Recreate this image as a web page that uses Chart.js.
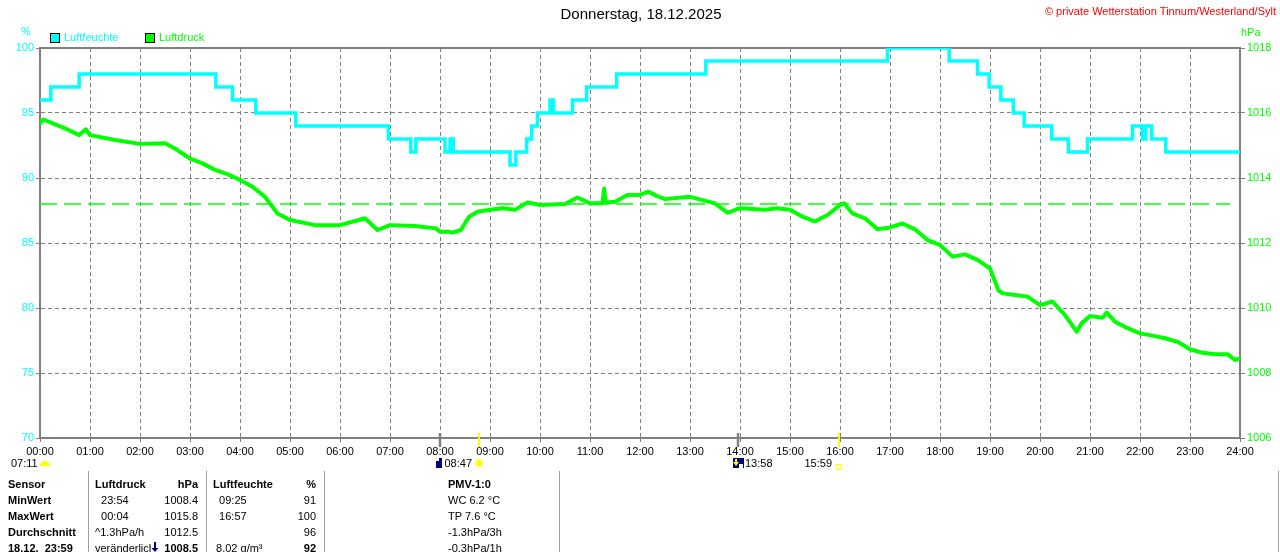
<!DOCTYPE html>
<html lang="de">
<head>
<meta charset="utf-8">
<title>Luftfeuchte / Luftdruck - 18.12.2025</title>
<script src="https://cdn.jsdelivr.net/npm/chart.js@4.4.1/dist/chart.umd.min.js"></script>
<style>
  html, body { margin: 0; padding: 0; background: #ffffff; }
  #wrap { width: 1280px; height: 552px; overflow: hidden; }
</style>
</head>
<body>
<div id="wrap"><canvas id="chart" width="1280" height="552"></canvas></div>
<script>
// ---------------------------------------------------------------
// Data (time in minutes since 00:00)
// ---------------------------------------------------------------
const hourLabels = ['00:00','01:00','02:00','03:00','04:00','05:00','06:00','07:00','08:00',
  '09:00','10:00','11:00','12:00','13:00','14:00','15:00','16:00','17:00','18:00','19:00',
  '20:00','21:00','22:00','23:00','24:00'];

const humTimes = [0, 13, 47, 211, 231, 259, 307, 418, 445, 451, 486, 492, 496, 564, 571, 584,
  590, 597, 612, 616, 639, 656, 692, 799, 1017, 1091, 1125, 1139, 1153, 1168, 1181, 1214,
  1234, 1257, 1311, 1323, 1327, 1334, 1351, 1440];
const humValues = [96, 97, 98, 97, 96, 95, 94, 93, 92, 93, 92, 93, 92, 91, 92, 93,
  94, 95, 96, 95, 96, 97, 98, 99, 100, 99, 98, 97, 96, 95, 94, 93,
  92, 93, 94, 93, 94, 93, 92, 92];

const pressTimes = [0, 4, 30, 47, 55, 60, 90, 120, 150, 165, 180, 195, 210, 225, 240, 255,
  270, 285, 300, 330, 360, 390, 405, 420, 450, 475, 480, 490, 495, 505, 515, 525, 540, 555,
  570, 585, 600, 630, 645, 660, 675, 677, 679, 690, 705, 720, 730, 740, 750, 780, 795, 810,
  825, 840, 870, 885, 900, 915, 930, 945, 960, 965, 975, 990, 1005, 1020, 1035, 1050, 1065,
  1080, 1095, 1110, 1125, 1140, 1150, 1155, 1170, 1185, 1200, 1215, 1230, 1240, 1244, 1250,
  1260, 1275, 1280, 1290, 1305, 1320, 1335, 1350, 1365, 1380, 1395, 1410, 1425, 1434, 1440];
const pressValues = [1015.68, 1015.80, 1015.53, 1015.32, 1015.50, 1015.32, 1015.17, 1015.05,
  1015.07, 1014.86, 1014.60, 1014.45, 1014.25, 1014.12, 1013.94, 1013.73, 1013.42, 1012.91,
  1012.71, 1012.55, 1012.55, 1012.76, 1012.40, 1012.55, 1012.52, 1012.45, 1012.35, 1012.35,
  1012.32, 1012.40, 1012.81, 1012.96, 1013.02, 1013.07, 1013.02, 1013.25, 1013.17, 1013.20,
  1013.40, 1013.22, 1013.22, 1013.68, 1013.25, 1013.27, 1013.48, 1013.48, 1013.58, 1013.45,
  1013.35, 1013.42, 1013.32, 1013.22, 1012.93, 1013.07, 1013.02, 1013.07, 1013.02, 1012.81,
  1012.66, 1012.86, 1013.17, 1013.22, 1012.91, 1012.76, 1012.42, 1012.48, 1012.60, 1012.42,
  1012.09, 1011.94, 1011.58, 1011.65, 1011.48, 1011.22, 1010.55, 1010.45, 1010.40, 1010.35,
  1010.09, 1010.20, 1009.78, 1009.42, 1009.27, 1009.53, 1009.75, 1009.70, 1009.86, 1009.58,
  1009.38, 1009.22, 1009.15, 1009.07, 1008.96, 1008.73, 1008.62, 1008.58, 1008.58, 1008.40,
  1008.45];

// dashed reference line (left axis, %)
const refLineTimes = [0, 1428];
const refLineValues = [88, 88];

// sun / moon events below the time axis
const markerTimes = [480, 527, 838, 959];
const markerLabels = ['', '08:47', '13:58', '15:59'];
const markerKinds = ['moon', 'sunrise', 'moonrise', 'sunset'];
const dawnLabel = '07:11';

// summary table
const tableRows = [
  ['Sensor', 'Luftdruck', 'hPa', 'Luftfeuchte', '%', 'PMV-1:0'],
  ['MinWert', '  23:54', '1008.4', '  09:25', '91', 'WC 6.2 °C'],
  ['MaxWert', '  00:04', '1015.8', '  16:57', '100', 'TP 7.6 °C'],
  ['Durchschnitt', '^1.3hPa/h', '1012.5', '', '96', '-1.3hPa/3h'],
  ['18.12.  23:59', 'veränderlich', '1008.5', ' 8.02 g/m³', '92', '-0.3hPa/1h']
];

const titleText = 'Donnerstag, 18.12.2025';
const copyrightText = '© private Wetterstation Tinnum/Westerland/Sylt';

// ---------------------------------------------------------------
// Styles
// ---------------------------------------------------------------
const CYAN = '#00ffff';
const GREEN = '#00ff00';
const GRAY = '#808080';
const FONT = '"Liberation Sans", Arial, sans-serif';

const humPoints = humTimes.map((t, i) => ({ x: t, y: humValues[i] }));
const pressPoints = pressTimes.map((t, i) => ({ x: t, y: pressValues[i] }));
const refPoints = refLineTimes.map((t, i) => ({ x: t, y: refLineValues[i] }));

function drawSun(ctx, x, y) {
    ctx.save();
    ctx.strokeStyle = '#ffff80';
    ctx.lineWidth = 1;
    for (let a = 0; a < 8; a++) {
        const ang = a * Math.PI / 4;
        ctx.beginPath();
        ctx.moveTo(x + Math.cos(ang) * 4, y + Math.sin(ang) * 4);
        ctx.lineTo(x + Math.cos(ang) * 6, y + Math.sin(ang) * 6);
        ctx.stroke();
    }
    ctx.fillStyle = '#ffff00';
    ctx.beginPath();
    ctx.arc(x, y, 3.5, 0, Math.PI * 2);
    ctx.fill();
    ctx.restore();
}

const overlayPlugin = {
    id: 'overlay',
    beforeDatasetsDraw(chart) {
        const { ctx, chartArea } = chart;
        ctx.save();
        ctx.strokeStyle = GRAY;
        ctx.lineWidth = 2;
        ctx.beginPath();
        ctx.moveTo(chartArea.left - 1, chartArea.top);
        ctx.lineTo(chartArea.right + 1, chartArea.top);
        ctx.stroke();
        ctx.restore();
    },
    afterDraw(chart) {
        const { ctx, chartArea } = chart;
        const xs = chart.scales.x;
        ctx.save();

        // title + copyright
        ctx.textBaseline = 'middle';
        ctx.font = '15px ' + FONT;
        ctx.fillStyle = '#000000';
        ctx.textAlign = 'center';
        ctx.fillText(titleText, 641, 15);
        ctx.font = '11px ' + FONT;
        ctx.fillStyle = '#ff0000';
        ctx.textAlign = 'right';
        ctx.fillText(copyrightText, 1276, 12);

        // units
        ctx.textAlign = 'center';
        ctx.fillStyle = CYAN;
        ctx.fillText('%', 26, 32);
        ctx.fillStyle = GREEN;
        ctx.textAlign = 'left';
        ctx.fillText('hPa', 1241, 33);

        // legend
        const legend = [['Luftfeuchte', CYAN, 50], ['Luftdruck', GREEN, 145]];
        legend.forEach(([label, color, lx]) => {
            ctx.fillStyle = color;
            ctx.fillRect(lx, 33, 10, 10);
            ctx.strokeStyle = '#000000';
            ctx.lineWidth = 1;
            ctx.strokeRect(lx + 0.5, 33.5, 9, 9);
            ctx.fillStyle = color;
            ctx.fillText(label, lx + 14, 38);
        });

        // sun / moon markers
        const yb = chartArea.bottom;
        markerTimes.forEach((t, i) => {
            const px = Math.round(xs.getPixelForValue(t));
            const kind = markerKinds[i];
            const isSun = kind === 'sunrise' || kind === 'sunset';
            ctx.strokeStyle = isSun ? '#ffff00' : GRAY;
            ctx.lineWidth = isSun ? 2 : 2.5;
            ctx.beginPath();
            ctx.moveTo(px, yb - 5);
            ctx.lineTo(px, yb + 9);
            ctx.stroke();

            ctx.fillStyle = '#000000';
            ctx.font = '11px ' + FONT;
            if (kind === 'moon') {
                ctx.fillStyle = '#000080';
                ctx.fillRect(px - 4, 458, 6, 10);
                ctx.fillStyle = '#ffffff';
                ctx.fillRect(px - 4, 458, 3, 3);
            } else if (kind === 'moonrise') {
                ctx.fillStyle = '#000080';
                ctx.fillRect(px - 5, 458, 11, 10);
                ctx.fillStyle = '#ffffff';
                ctx.fillRect(px + 1, 464, 4, 4);
                ctx.fillStyle = '#ffff00';
                ctx.fillRect(px - 3, 459, 2, 4);
                ctx.beginPath();
                ctx.moveTo(px - 5, 462);
                ctx.lineTo(px + 1, 462);
                ctx.lineTo(px - 2, 466);
                ctx.closePath();
                ctx.fill();
                ctx.fillStyle = '#000000';
                ctx.textAlign = 'left';
                ctx.fillText(markerLabels[i], px + 7, 464);
            } else if (kind === 'sunrise') {
                drawSun(ctx, px, 463);
                ctx.fillStyle = '#000000';
                ctx.textAlign = 'right';
                ctx.fillText(markerLabels[i], px - 7, 464);
            } else {
                ctx.strokeStyle = '#ffff00';
                ctx.lineWidth = 1;
                ctx.strokeRect(px - 2.5, 464.5, 5, 5);
                ctx.fillStyle = '#000000';
                ctx.textAlign = 'right';
                ctx.fillText(markerLabels[i], px - 7, 464);
            }
        });

        // dawn label with half sun
        ctx.fillStyle = '#000000';
        ctx.textAlign = 'left';
        ctx.fillText(dawnLabel, 11, 464);
        ctx.fillStyle = '#ffff00';
        ctx.beginPath();
        ctx.arc(45, 466, 5, Math.PI, 0);
        ctx.closePath();
        ctx.fill();

        // table separators
        ctx.strokeStyle = '#a0a0a0';
        ctx.lineWidth = 1;
        [88.5, 206.5, 324.5, 559.5, 1278.5].forEach(sx => {
            ctx.beginPath();
            ctx.moveTo(sx, 471);
            ctx.lineTo(sx, 552);
            ctx.stroke();
        });

        // table
        const colX = [8, 95, 198, 213, 316, 448];
        const colAlign = ['left', 'left', 'right', 'left', 'right', 'left'];
        const rowY = [485, 501, 517, 533, 549];
        tableRows.forEach((row, r) => {
            row.forEach((cell, c) => {
                const bold = r === 0 || c === 0 || (r === 4 && (c === 2 || c === 4));
                ctx.font = (bold ? 'bold ' : '') + '11px ' + FONT;
                ctx.textAlign = colAlign[c];
                ctx.fillStyle = '#000000';
                ctx.fillText(cell, colX[c], rowY[r]);
            });
        });

        // trend arrow in the last row
        ctx.fillStyle = '#ffffff';
        ctx.fillRect(151, 541, 9, 11);
        ctx.fillStyle = '#000080';
        ctx.fillRect(154, 542, 2, 7);
        ctx.beginPath();
        ctx.moveTo(151.5, 548);
        ctx.lineTo(158.5, 548);
        ctx.lineTo(155, 552);
        ctx.closePath();
        ctx.fill();

        ctx.restore();
    }
};

const ctx = document.getElementById('chart').getContext('2d');
new Chart(ctx, {
    type: 'line',
    data: {
        datasets: [
            {
                label: 'Luftfeuchte',
                data: humPoints,
                yAxisID: 'yH',
                borderColor: CYAN,
                borderWidth: 3.5,
                stepped: 'before',
                pointRadius: 0,
                fill: false
            },
            {
                label: 'Luftdruck',
                data: pressPoints,
                yAxisID: 'yP',
                borderColor: GREEN,
                borderWidth: 4,
                borderJoinStyle: 'round',
                borderCapStyle: 'round',
                pointRadius: 0,
                tension: 0,
                fill: false
            },
            {
                label: 'ref',
                data: refPoints,
                yAxisID: 'yH',
                borderColor: GREEN,
                borderWidth: 1.5,
                borderDash: [17, 7],
                pointRadius: 0,
                fill: false
            }
        ]
    },
    options: {
        responsive: false,
        animation: false,
        layout: { padding: { top: 48, left: 0, right: 0, bottom: 0 } },
        plugins: {
            legend: { display: false },
            tooltip: { enabled: false }
        },
        scales: {
            x: {
                type: 'linear',
                min: 0,
                max: 1440,
                afterFit: (scale) => { scale.height = 114; },
                border: { display: true, color: GRAY, width: 2, dash: [4, 3] },
                grid: {
                    color: GRAY,
                    lineWidth: 1,
                    tickLength: 4,
                    tickColor: GRAY,
                    tickBorderDash: []
                },
                ticks: {
                    stepSize: 60,
                    autoSkip: false,
                    maxRotation: 0,
                    padding: 3,
                    color: '#000000',
                    font: { family: FONT, size: 11 },
                    callback: (value) => hourLabels[Math.round(value / 60)]
                }
            },
            yH: {
                type: 'linear',
                position: 'left',
                min: 70,
                max: 100,
                afterFit: (scale) => { scale.width = 40; },
                border: { display: true, color: GRAY, width: 2, dash: [4, 3] },
                grid: {
                    color: GRAY,
                    lineWidth: 1,
                    tickLength: 4,
                    tickColor: GRAY,
                    tickBorderDash: []
                },
                ticks: {
                    stepSize: 5,
                    padding: 2,
                    color: CYAN,
                    font: { family: FONT, size: 11 },
                    callback: (value) => String(value)
                }
            },
            yP: {
                type: 'linear',
                position: 'right',
                min: 1006,
                max: 1018,
                afterFit: (scale) => { scale.width = 40; },
                border: { display: true, color: GRAY, width: 2 },
                grid: {
                    drawOnChartArea: false,
                    tickLength: 5,
                    tickColor: GRAY
                },
                ticks: {
                    stepSize: 2,
                    padding: 2,
                    color: GREEN,
                    font: { family: FONT, size: 11 },
                    callback: (value) => String(value)
                }
            }
        }
    },
    plugins: [overlayPlugin]
});
</script>
</body>
</html>
